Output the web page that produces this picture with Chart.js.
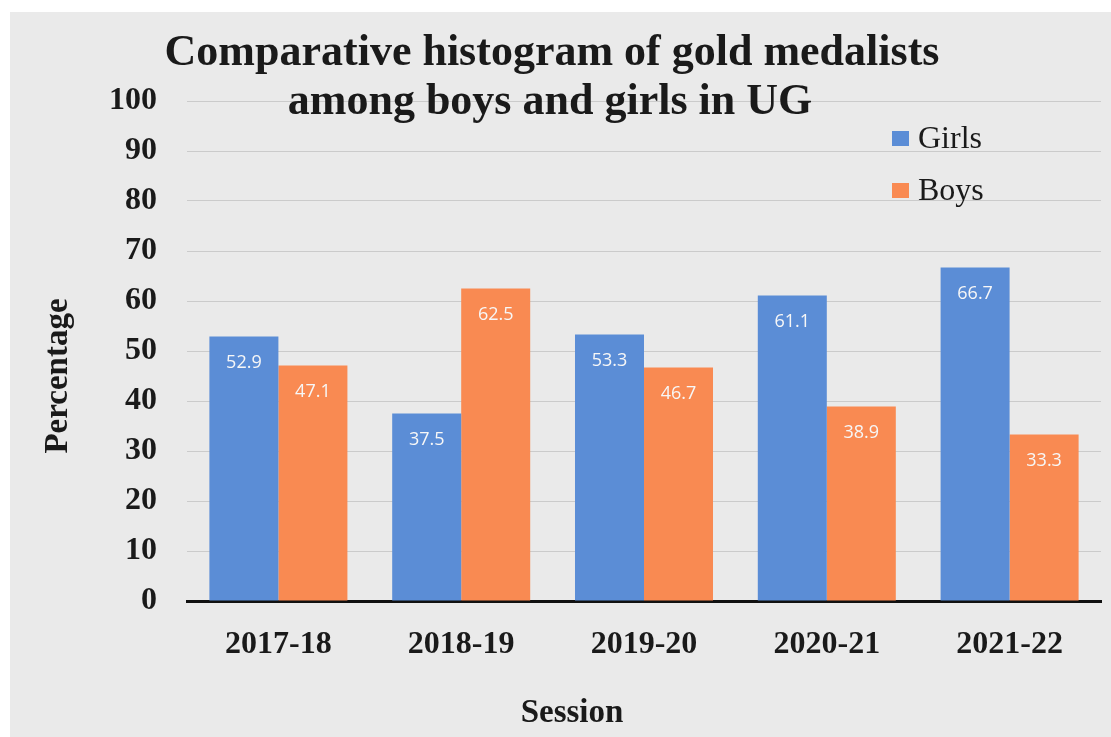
<!DOCTYPE html>
<html>
<head>
<meta charset="utf-8">
<script src="https://cdn.jsdelivr.net/npm/chart.js@4"></script>
<style>
  html, body { margin: 0; padding: 0; background: #ffffff; }
  #wrap { position: relative; width: 1111px; height: 737px; overflow: hidden; }
  #panel { position: absolute; left: 10px; top: 12px; right: 0; bottom: 0; background: #eaeaea; }
  #chart { position: absolute; left: 0; top: 0; }
</style>
</head>
<body>
<div id="wrap">
  <div id="panel"></div>
  <canvas id="chart" width="1111" height="737"></canvas>
</div>
<script>
// data
const sessions = ["2017-18", "2018-19", "2019-20", "2020-21", "2021-22"];
const girls = [52.9, 37.5, 53.3, 61.1, 66.7];
const boys = [47.1, 62.5, 46.7, 38.9, 33.3];
const yTicks = [0, 10, 20, 30, 40, 50, 60, 70, 80, 90, 100];

const titleLines = ["Comparative histogram of gold medalists", "among boys and girls in UG"];
const SERIF = "'Liberation Serif', 'Times New Roman', serif";

// titles, legend and value labels drawn straight onto the canvas
const extras = {
    id: "extras",
    afterDatasetsDraw(chart) {
        const ctx = chart.ctx;
        ctx.save();

        // value labels inside bar tops
        ctx.fillStyle = "#f7f7f7";
        ctx.font = "18px 'Open Sans', sans-serif";
        ctx.textAlign = "center";
        ctx.textBaseline = "middle";
        chart.data.datasets.forEach((ds, i) => {
            chart.getDatasetMeta(i).data.forEach((bar, j) => {
                ctx.fillText(ds.data[j].toFixed(1), bar.x, bar.y + 26);
            });
        });

        // chart title
        ctx.fillStyle = "#1a1a1a";
        ctx.font = "bold 44px " + SERIF;
        ctx.textBaseline = "alphabetic";
        ctx.fillText(titleLines[0], 552, 65);
        ctx.fillText(titleLines[1], 550, 114);

        // axis titles
        ctx.font = "bold 33px " + SERIF;
        ctx.fillText("Session", 572, 722);
        ctx.save();
        ctx.translate(67, 376);
        ctx.rotate(-Math.PI / 2);
        ctx.fillText("Percentage", 0, 0);
        ctx.restore();

        // legend
        ctx.font = "32px " + SERIF;
        ctx.textAlign = "left";
        const rows = [148, 200];
        chart.data.datasets.forEach((ds, i) => {
            ctx.fillStyle = ds.backgroundColor;
            ctx.fillRect(892, rows[i] - 17, 17, 15);
            ctx.fillStyle = "#1a1a1a";
            ctx.fillText(ds.label, 918, rows[i]);
        });

        ctx.restore();
    }
};

new Chart(document.getElementById("chart"), {
    type: "bar",
    data: {
        labels: sessions,
        datasets: [
            { label: "Girls", data: girls, backgroundColor: "#5b8dd6" },
            { label: "Boys", data: boys, backgroundColor: "#f98a52" }
        ]
    },
    options: {
        responsive: false,
        animation: false,
        events: [],
        layout: { padding: { left: 0, top: 101, right: 10, bottom: 0 } },
        datasets: {
            bar: { categoryPercentage: 0.755, barPercentage: 1.0 }
        },
        plugins: {
            legend: { display: false },
            title: { display: false },
            tooltip: { enabled: false }
        },
        scales: {
            x: {
                grid: { display: false, drawTicks: false },
                border: { display: true, color: "#111111", width: 3 },
                ticks: {
                    color: "#1a1a1a",
                    padding: 25,
                    font: { family: SERIF, size: 32, weight: "bold" }
                },
                afterFit: (s) => { s.height = 136; }
            },
            y: {
                min: 0,
                max: 100,
                afterBuildTicks: (s) => { s.ticks = yTicks.map(v => ({ value: v })); },
                grid: {
                    drawTicks: false,
                    color: (c) => c.tick.value === 0 ? "rgba(0,0,0,0)" : "#cbcbcb",
                    lineWidth: 1
                },
                border: { display: false },
                ticks: {
                    color: "#1a1a1a",
                    padding: 30,
                    font: { family: SERIF, size: 32, weight: "bold" }
                },
                afterFit: (s) => { s.width = 187; }
            }
        }
    },
    plugins: [extras]
});
</script>
</body>
</html>
